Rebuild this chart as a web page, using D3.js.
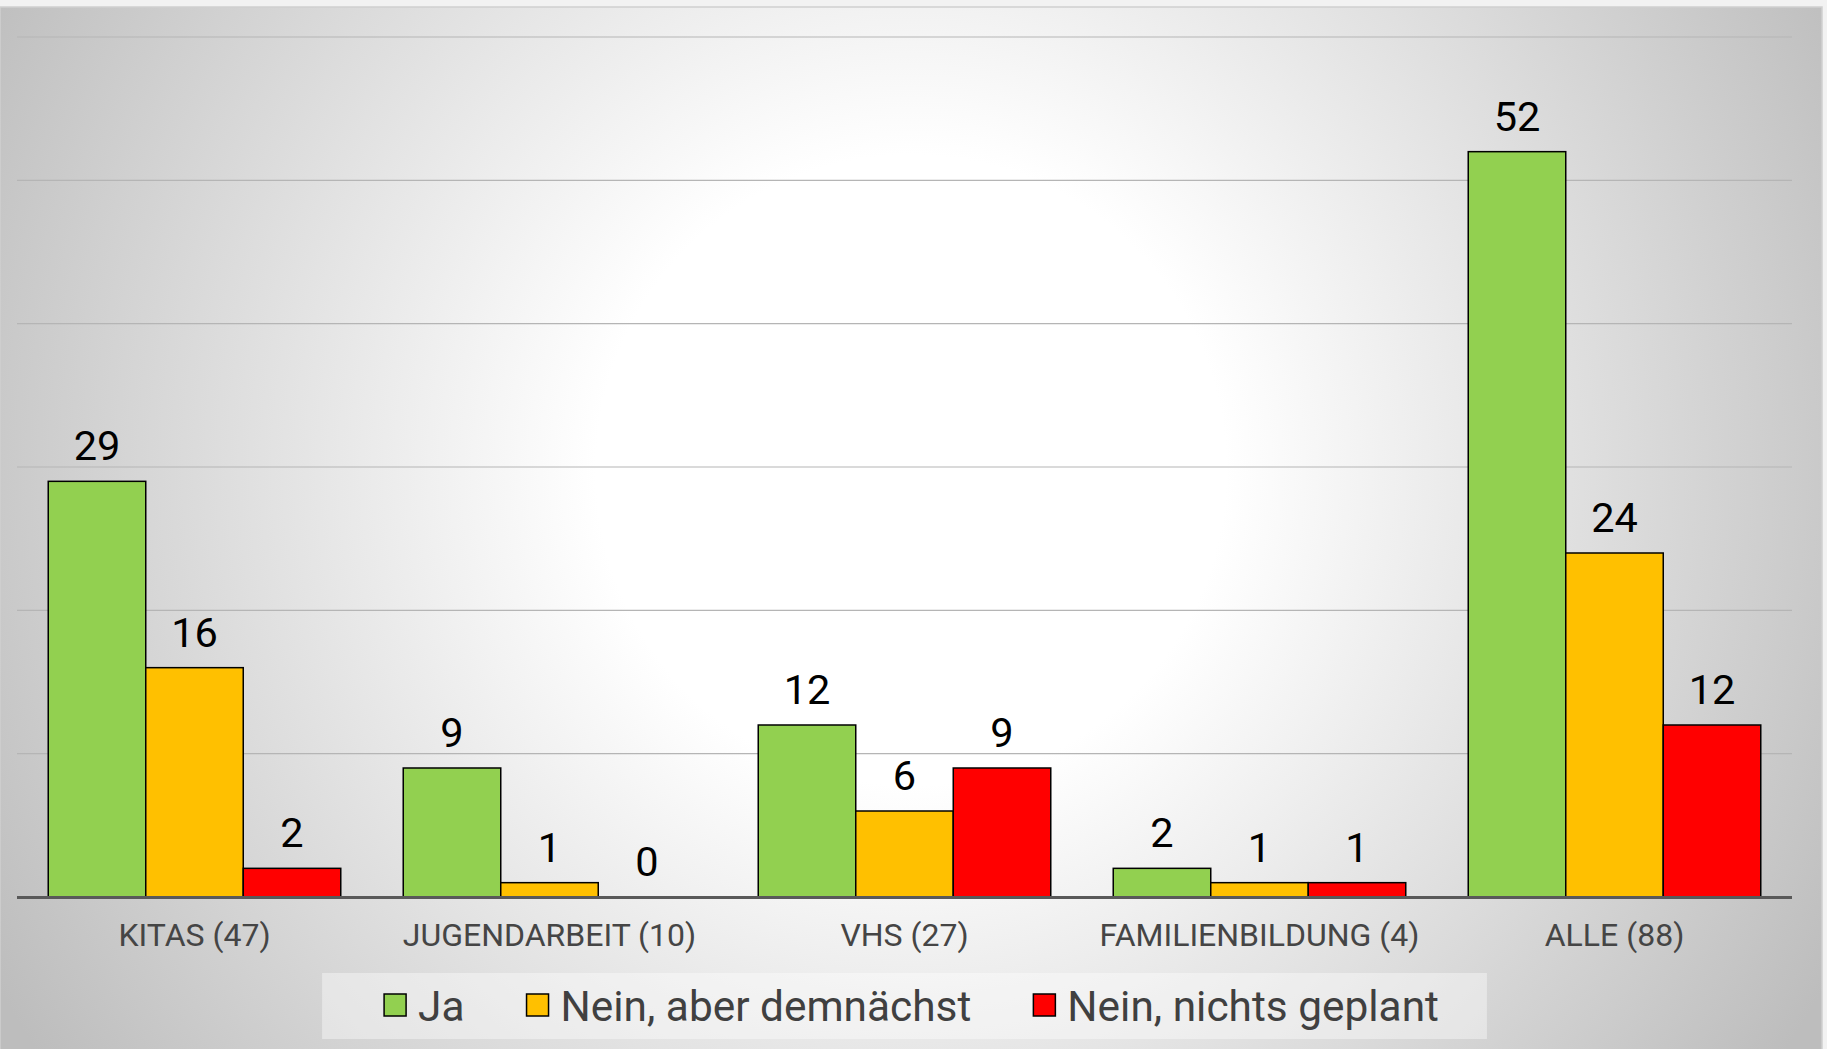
<!DOCTYPE html>
<html>
<head>
<meta charset="utf-8">
<script src="https://cdn.jsdelivr.net/npm/d3@7"></script>
<style>
    html, body { margin: 0; padding: 0; background: #f2f2f2; overflow: hidden; }
    svg { display: block; font-family: Roboto, 'Noto Sans', sans-serif; }
    .cat-label { fill: #454545; font-size: 32px; text-anchor: middle; }
    .value { fill: #000; font-size: 41.5px; text-anchor: middle; }
    .legend-text { fill: #404040; font-size: 42.4px; }
</style>
</head>
<body>
<div id="chart"></div>
<script>
const categories = ['KITAS (47)', 'JUGENDARBEIT (10)', 'VHS (27)', 'FAMILIENBILDUNG (4)', 'ALLE (88)']
const seriesNames = ['Ja', 'Nein, aber demnächst', 'Nein, nichts geplant']
const seriesColors = ['#92d050', '#ffc000', '#ff0000']
const ja = [29, 9, 12, 2, 52]
const neinDemnaechst = [16, 1, 6, 1, 24]
const neinNichtsGeplant = [2, 0, 9, 1, 12]
const yMax = 60

drawChart()
function drawChart() {
    const seriesValues = [ja, neinDemnaechst, neinNichtsGeplant]

    let dim = {
        width: 1827,
        height: 1049,
        frame: { left: 0, top: 7, right: 1822 },
        margin: { left: 17, right: 35, top: 37, bottom: 152 }
    }
    dim.bottomY = dim.height - dim.margin.bottom
    dim.rightX = dim.width - dim.margin.right

    const wrapper = d3.select('#chart')
        .append('svg')
        .attr('width', dim.width)
        .attr('height', dim.height)

    const defs = wrapper.append('defs')
    const grad = defs.append('radialGradient')
        .attr('id', 'bg')
        .attr('gradientUnits', 'userSpaceOnUse')
        .attr('cx', 911).attr('cy', 470).attr('r', 1050)
    grad.append('stop').attr('offset', 0).attr('stop-color', '#ffffff')
    grad.append('stop').attr('offset', .3).attr('stop-color', '#ffffff')
    grad.append('stop').attr('offset', 1).attr('stop-color', '#bdbdbd')

    wrapper.append('rect')
        .attr('x', dim.frame.left).attr('y', dim.frame.top)
        .attr('width', dim.frame.right - dim.frame.left)
        .attr('height', dim.height - dim.frame.top + 2)
        .attr('fill', 'url(#bg)')
        .attr('stroke', '#d0d0d0')
        .attr('stroke-width', 1.5)

    const xScale = d3.scaleBand()
        .domain(categories)
        .range([dim.margin.left, dim.rightX])
        .paddingInner(.176)
        .paddingOuter(.088)

    const x1Scale = d3.scaleBand()
        .domain(seriesNames)
        .range([0, xScale.bandwidth()])

    const yScale = d3.scaleLinear()
        .domain([0, yMax])
        .range([dim.bottomY, dim.margin.top])

    // gridlines
    wrapper.append('g')
        .selectAll('line')
        .data(yScale.ticks(6).filter(d => d > 0))
        .join('line')
        .attr('x1', dim.margin.left).attr('x2', dim.rightX)
        .attr('y1', d => yScale(d)).attr('y2', d => yScale(d))
        .attr('stroke', '#b5b5b5')
        .attr('stroke-width', 1.2)

    const rows = categories.flatMap((cat, i) => seriesNames.map((s, j) => ({
        cat, series: s, value: seriesValues[j][i], color: seriesColors[j]
    })))

    const groups = wrapper.append('g')
        .selectAll('g')
        .data(rows)
        .join('g')
        .attr('transform', d => `translate(${xScale(d.cat) + x1Scale(d.series)},0)`)

    groups.append('rect')
        .attr('x', 0)
        .attr('width', x1Scale.bandwidth())
        .attr('y', d => yScale(d.value))
        .attr('height', d => yScale(0) - yScale(d.value))
        .attr('fill', d => d.color)
        .attr('stroke', '#000')
        .attr('stroke-width', 1.5)
        .style('display', d => d.value == 0 ? 'none' : null)

    groups.append('text')
        .attr('class', 'value')
        .attr('x', x1Scale.bandwidth() / 2)
        .attr('y', d => yScale(d.value) - 21)
        .text(d => d.value)

    // baseline
    wrapper.append('line')
        .attr('x1', dim.margin.left).attr('x2', dim.rightX)
        .attr('y1', yScale(0) + .5).attr('y2', yScale(0) + .5)
        .attr('stroke', '#595959')
        .attr('stroke-width', 3)

    wrapper.append('g')
        .selectAll('text')
        .data(categories)
        .join('text')
        .attr('class', 'cat-label')
        .attr('x', d => xScale(d) + xScale.bandwidth() / 2)
        .attr('y', dim.bottomY + 49)
        .text(d => d)

    // legend
    const legendCenterX = (dim.margin.left + dim.rightX) / 2
    const legendY = 1006
    const markerSize = 22
    const markerGap = 12
    const itemGap = 62

    const legendBox = wrapper.append('rect')
        .attr('fill', 'rgba(255,255,255,.4)')
    const legend = wrapper.append('g')

    const items = legend.selectAll('g')
        .data(seriesNames)
        .join('g')
    items.append('rect')
        .attr('width', markerSize).attr('height', markerSize)
        .attr('y', legendY - markerSize / 2 - 1)
        .attr('fill', (d, i) => seriesColors[i])
        .attr('stroke', '#000')
        .attr('stroke-width', 1.5)
    items.append('text')
        .attr('class', 'legend-text')
        .attr('x', markerSize + markerGap)
        .attr('y', legendY + 15)
        .text(d => d)

    let cursor = 0
    items.each(function () {
        const item = d3.select(this)
        item.attr('transform', `translate(${cursor},0)`)
        const w = markerSize + markerGap + item.select('text').node().getComputedTextLength()
        cursor += w + itemGap
    })
    const contentW = cursor - itemGap
    const startX = legendCenterX + 7 - contentW / 2
    legend.attr('transform', `translate(${startX},0)`)

    const boxW = contentW + 110
    legendBox
        .attr('x', legendCenterX - boxW / 2)
        .attr('y', 973)
        .attr('width', boxW)
        .attr('height', 66)
}
</script>
</body>
</html>
